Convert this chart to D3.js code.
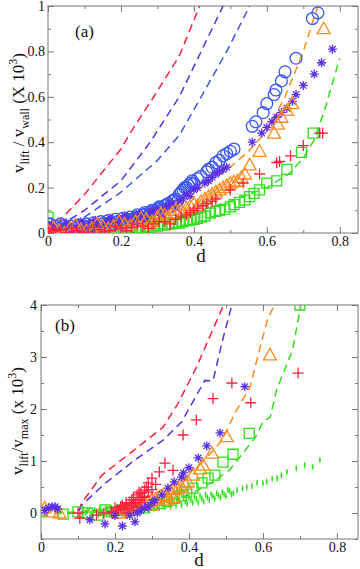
<!DOCTYPE html>
<meta charset="utf-8">
<head>
<title>lift velocity</title>
<style>
body { margin: 0; background-color: #FFF; }
text { font-family: 'Liberation Serif', 'Times New Roman', serif; fill: #111; }
.tick text { font-size: 14px; font-family: 'Liberation Serif', 'Times New Roman', serif; }
.tick line { stroke: #777; }
.frame { fill: none; stroke: #777; stroke-width: 1px; }
.dash { fill: none; stroke-width: 1.5px; stroke-dasharray: 8,5; }
.mark { fill: none; stroke-width: 1.3px; }
</style>
</head>
<body>
<script src="https://cdn.jsdelivr.net/npm/d3@7"></script>
<script>

var W = 360, H = 569;
var red = "#ff1f3d", purple = "#5b2ee8", blue = "#3a56f0", orange = "#ff8a1f", green = "#2fe01a";

// ---------- panel (a) data : [d, v] ----------
var aBlue = [[0.00,0.02],[0.005,0.04],[0.01,0.01],[0.015,0.0],[0.02,0.03],[0.025,0.01],[0.03,0.02],[0.035,0.04],[0.04,0.01],[0.045,0.03],[0.05,0.02],[0.055,0.01],[0.06,0.015],[0.065,0.03],[0.07,0.02],[0.075,0.01],[0.08,0.025],[0.085,0.035],[0.09,0.02],[0.095,0.015],[0.10,0.03],[0.105,0.04],[0.11,0.025],[0.115,0.02],[0.12,0.03],[0.125,0.045],[0.13,0.035],[0.135,0.025],[0.14,0.03],[0.145,0.05],[0.15,0.04],[0.155,0.03],[0.16,0.035],[0.165,0.055],[0.17,0.045],[0.175,0.035],[0.18,0.04],[0.185,0.06],[0.19,0.05],[0.195,0.04],[0.20,0.05],[0.205,0.065],[0.21,0.055],[0.215,0.045],[0.22,0.06],[0.225,0.07],[0.23,0.06],[0.235,0.055],[0.24,0.07],[0.245,0.08],[0.25,0.07],[0.255,0.065],[0.26,0.08],[0.265,0.09],[0.27,0.085],[0.275,0.075],[0.28,0.09],[0.285,0.10],[0.29,0.10],[0.295,0.09],[0.30,0.105],[0.305,0.115],[0.31,0.11],[0.315,0.10],[0.32,0.12],[0.325,0.125],[0.33,0.13],[0.335,0.115],[0.34,0.14],[0.345,0.145],[0.35,0.15],[0.355,0.14],[0.36,0.17],[0.365,0.18],[0.37,0.19],[0.375,0.20],[0.38,0.20],[0.385,0.21],[0.39,0.22],[0.395,0.23],[0.40,0.22],[0.41,0.24],[0.42,0.25],[0.435,0.27],[0.44,0.28],[0.45,0.29],[0.46,0.31],[0.47,0.32],[0.48,0.34],[0.49,0.35],[0.50,0.36],[0.51,0.37],[0.56,0.47],[0.57,0.49],[0.59,0.53],[0.60,0.57],[0.62,0.61],[0.625,0.63],[0.64,0.67],[0.65,0.71],[0.68,0.77],[0.725,0.945],[0.74,0.97]];
var aPurple = [[0.00,0.01],[0.01,0.04],[0.02,0.02],[0.03,0.0],[0.04,0.01],[0.05,0.045],[0.06,0.03],[0.07,0.01],[0.08,0.02],[0.09,0.05],[0.10,0.03],[0.11,0.015],[0.12,0.04],[0.13,0.055],[0.14,0.035],[0.15,0.02],[0.16,0.05],[0.17,0.065],[0.18,0.045],[0.19,0.03],[0.20,0.06],[0.21,0.075],[0.22,0.06],[0.23,0.04],[0.24,0.07],[0.25,0.085],[0.26,0.075],[0.27,0.05],[0.28,0.09],[0.29,0.10],[0.30,0.10],[0.31,0.08],[0.32,0.11],[0.33,0.12],[0.34,0.13],[0.35,0.11],[0.36,0.14],[0.37,0.15],[0.38,0.17],[0.39,0.16],[0.40,0.19],[0.41,0.20],[0.43,0.22],[0.44,0.23],[0.45,0.245],[0.46,0.26],[0.47,0.27],[0.48,0.28],[0.49,0.29],[0.56,0.40],[0.586,0.44],[0.60,0.465],[0.614,0.49],[0.627,0.51],[0.64,0.53],[0.655,0.55],[0.67,0.58],[0.68,0.61],[0.70,0.65],[0.73,0.70],[0.75,0.75],[0.78,0.81]];
var aOrange = [[0.00,0.01],[0.015,0.025],[0.03,0.01],[0.045,0.0],[0.06,0.02],[0.075,0.035],[0.09,0.015],[0.105,0.01],[0.12,0.02],[0.135,0.04],[0.15,0.03],[0.165,0.02],[0.18,0.03],[0.195,0.05],[0.21,0.04],[0.225,0.03],[0.24,0.05],[0.255,0.065],[0.27,0.06],[0.285,0.05],[0.30,0.07],[0.31,0.085],[0.32,0.08],[0.33,0.07],[0.34,0.09],[0.35,0.10],[0.36,0.10],[0.37,0.09],[0.38,0.11],[0.39,0.12],[0.40,0.13],[0.41,0.12],[0.42,0.14],[0.43,0.15],[0.44,0.16],[0.45,0.17],[0.46,0.18],[0.47,0.19],[0.48,0.20],[0.49,0.21],[0.50,0.22],[0.51,0.225],[0.52,0.23],[0.53,0.245],[0.54,0.26],[0.553,0.30],[0.58,0.36],[0.62,0.44],[0.63,0.48],[0.64,0.51],[0.655,0.54],[0.67,0.57],[0.756,0.90]];
var aRed = [[0.00,0.00],[0.01,0.02],[0.02,0.01],[0.035,0.015],[0.05,0.00],[0.065,0.02],[0.08,0.01],[0.095,0.00],[0.11,0.005],[0.125,0.025],[0.14,0.015],[0.155,0.005],[0.17,0.01],[0.185,0.03],[0.20,0.02],[0.215,0.01],[0.23,0.025],[0.245,0.04],[0.26,0.03],[0.275,0.02],[0.29,0.04],[0.305,0.05],[0.32,0.05],[0.335,0.04],[0.35,0.06],[0.365,0.07],[0.38,0.08],[0.39,0.09],[0.40,0.10],[0.41,0.11],[0.425,0.12],[0.435,0.13],[0.45,0.14],[0.46,0.15],[0.50,0.19],[0.535,0.22],[0.58,0.26],[0.627,0.31],[0.635,0.315],[0.665,0.34],[0.70,0.385],[0.745,0.44],[0.753,0.44]];
var aGreen = [[0.00,0.07],[0.00,0.04],[0.01,0.01],[0.02,0.00],[0.04,0.005],[0.05,0.01],[0.06,0.00],[0.07,0.0],[0.08,0.005],[0.09,0.01],[0.10,0.00],[0.11,0.005],[0.12,0.01],[0.13,0.015],[0.14,0.005],[0.15,0.01],[0.16,0.01],[0.17,0.015],[0.18,0.01],[0.19,0.02],[0.20,0.015],[0.21,0.02],[0.22,0.01],[0.23,0.025],[0.24,0.02],[0.25,0.025],[0.26,0.02],[0.27,0.03],[0.28,0.025],[0.29,0.035],[0.30,0.03],[0.31,0.04],[0.32,0.035],[0.33,0.04],[0.34,0.04],[0.35,0.045],[0.36,0.044],[0.37,0.05],[0.38,0.055],[0.39,0.057],[0.40,0.06],[0.41,0.065],[0.42,0.07],[0.43,0.075],[0.445,0.088],[0.46,0.095],[0.47,0.10],[0.485,0.105],[0.50,0.115],[0.51,0.125],[0.525,0.135],[0.54,0.145],[0.553,0.16],[0.565,0.175],[0.58,0.19],[0.60,0.22],[0.627,0.23],[0.655,0.28],[0.695,0.355],[0.727,0.44]];

var aLineRed = [[0,0],[0.1,0.17],[0.2,0.37],[0.225,0.44],[0.29,0.6],[0.36,0.78],[0.416,1.0],[0.43,1.06]];
var aLinePurple = [[0,0],[0.1,0.1],[0.2,0.23],[0.28,0.4],[0.36,0.6],[0.42,0.8],[0.48,1.0],[0.5,1.07]];
var aLineBlue = [[0,0],[0.1,0.07],[0.2,0.18],[0.3,0.32],[0.36,0.43],[0.42,0.6],[0.49,0.8],[0.553,1.0],[0.57,1.06]];
var aLineOrange = [[0,0],[0.1,0.02],[0.2,0.05],[0.3,0.1],[0.4,0.18],[0.5,0.29],[0.55,0.36],[0.6,0.45],[0.65,0.6],[0.7,0.8],[0.74,1.0],[0.75,1.05]];
var aLineGreen = [[0,0],[0.1,0.01],[0.2,0.03],[0.3,0.05],[0.4,0.09],[0.5,0.14],[0.6,0.2],[0.66,0.26],[0.7,0.33],[0.73,0.41],[0.76,0.55],[0.8,0.77]];

// ---------- panel (b) data ----------
var bRed = [[0.10,0.0],[0.105,-0.1],[0.15,-0.04],[0.17,0.0],[0.19,0.02],[0.195,0.0],[0.20,0.1],[0.205,0.05],[0.21,0.05],[0.215,0.12],[0.22,0.15],[0.225,0.08],[0.23,0.2],[0.23,0.0],[0.235,0.1],[0.24,0.18],[0.245,0.15],[0.245,0.25],[0.25,0.3],[0.25,0.05],[0.255,0.2],[0.26,0.35],[0.26,0.12],[0.265,0.4],[0.265,0.25],[0.27,0.38],[0.27,0.2],[0.275,0.3],[0.28,0.44],[0.28,0.32],[0.285,0.5],[0.29,0.58],[0.29,0.4],[0.30,0.67],[0.30,0.45],[0.31,0.55],[0.32,0.79],[0.335,0.96],[0.357,0.82],[0.384,1.5],[0.42,1.79],[0.465,2.2],[0.516,2.5],[0.567,2.12],[0.695,2.69]];
var bPurple = [[0.01,0.05],[0.02,0.1],[0.03,0.12],[0.038,0.12],[0.045,0.08],[0.132,-0.13],[0.173,-0.21],[0.20,-0.05],[0.22,-0.25],[0.24,-0.05],[0.254,-0.17],[0.26,0.0],[0.27,0.05],[0.28,0.1],[0.29,0.12],[0.30,0.2],[0.308,0.25],[0.327,0.35],[0.343,0.48],[0.36,0.6],[0.38,0.69],[0.385,0.77],[0.40,0.87],[0.425,1.06],[0.448,1.29],[0.484,1.54],[0.551,2.43]];
var bOrange = [[0.0,0.05],[0.01,0.1],[0.03,0.02],[0.05,0.0],[0.21,0.0],[0.22,0.05],[0.23,0.08],[0.24,0.1],[0.25,0.12],[0.26,0.15],[0.27,0.14],[0.28,0.2],[0.29,0.22],[0.30,0.25],[0.30,0.15],[0.31,0.27],[0.32,0.3],[0.33,0.33],[0.34,0.35],[0.34,0.25],[0.35,0.4],[0.36,0.45],[0.36,0.3],[0.37,0.47],[0.38,0.5],[0.39,0.55],[0.397,0.6],[0.411,0.73],[0.43,0.85],[0.438,0.92],[0.462,1.15],[0.502,1.47],[0.619,3.04]];
var bGreen = [[0.0,0.02],[0.06,-0.02],[0.10,0.02],[0.125,0.0],[0.154,-0.04],[0.173,0.06],[0.19,0.02],[0.22,0.05],[0.25,0.08],[0.28,0.1],[0.30,0.15],[0.32,0.18],[0.34,0.22],[0.36,0.28],[0.38,0.33],[0.394,0.4],[0.411,0.48],[0.435,0.58],[0.452,0.67],[0.47,0.73],[0.492,0.98],[0.519,1.13],[0.563,1.53],[0.70,4.0]];
var bGreenDots = [[0.12,0.0],[0.125,0.03],[0.13,0.05],[0.135,-0.02],[0.14,-0.05],[0.145,0.06],[0.15,0.02],[0.155,-0.04],[0.16,0.08],[0.165,0.03],[0.17,-0.03],[0.175,0.09],[0.18,0.04],[0.185,-0.01],[0.19,0.1],[0.195,0.05],[0.20,0.0],[0.205,0.12],[0.21,0.06],[0.215,0.02],[0.22,-0.02],[0.225,0.08],[0.23,0.12],[0.235,0.15],[0.24,0.05],[0.245,0.0],[0.25,0.15],[0.255,0.1],[0.26,0.02],[0.265,0.17],[0.27,0.1],[0.275,0.05],[0.28,0.18],[0.285,0.12],[0.29,0.06],[0.295,0.2],[0.30,0.14],[0.305,0.08],[0.31,0.2],[0.315,0.16],[0.32,0.1],[0.325,0.22],[0.33,0.17],[0.335,0.12],[0.34,0.24],[0.345,0.18],[0.35,0.12],[0.355,0.27],[0.36,0.2],[0.365,0.14],[0.37,0.26],[0.375,0.23],[0.38,0.15],[0.385,0.3],[0.39,0.22],[0.395,0.18],[0.40,0.3],[0.405,0.25],[0.41,0.2],[0.415,0.32],[0.42,0.27],[0.425,0.2],[0.43,0.33],[0.435,0.28],[0.44,0.22],[0.445,0.35],[0.45,0.3],[0.455,0.25],[0.46,0.36],[0.465,0.32],[0.47,0.28],[0.475,0.38],[0.48,0.34],[0.485,0.3],[0.49,0.4],[0.495,0.36],[0.50,0.32],[0.505,0.44],[0.51,0.42],[0.515,0.36],[0.52,0.38],[0.53,0.44],[0.545,0.47],[0.556,0.5],[0.57,0.52],[0.584,0.58],[0.60,0.57],[0.61,0.6],[0.625,0.66],[0.638,0.67],[0.65,0.72],[0.665,0.79],[0.69,0.86],[0.713,0.92],[0.735,0.89],[0.754,1.02]];

var bLineRed = [[0,0],[0.1,0],[0.11,0.19],[0.165,0.73],[0.25,1.2],[0.33,1.65],[0.37,2.1],[0.42,2.8],[0.49,3.94],[0.5,4.15]];
var bLinePurple = [[0,0],[0.1,0],[0.11,0.15],[0.17,0.55],[0.25,1.0],[0.33,1.4],[0.38,1.75],[0.443,2.55],[0.465,2.54],[0.49,3.3],[0.516,4.0],[0.52,4.15]];
var bLineOrange = [[0,0],[0.1,0.02],[0.2,0.12],[0.3,0.35],[0.38,0.65],[0.44,1.0],[0.49,1.4],[0.503,1.6],[0.524,1.92],[0.565,2.42],[0.592,3.18],[0.614,3.76],[0.632,4.0],[0.64,4.15]];
var bLineGreen = [[0,0],[0.1,0],[0.2,0.05],[0.3,0.15],[0.4,0.35],[0.465,0.6],[0.51,0.83],[0.546,1.15],[0.58,1.46],[0.6,1.75],[0.62,1.85],[0.637,2.37],[0.68,3.13],[0.70,3.9],[0.705,4.15]];

var xTicks = [0, 0.2, 0.4, 0.6, 0.8];
var xMinor = [0.1, 0.3, 0.5, 0.7];
var aYTicks = [0, 0.2, 0.4, 0.6, 0.8, 1];
var aYMinor = [0.1, 0.3, 0.5, 0.7, 0.9];
var bYTicks = [0, 1, 2, 3, 4];
var bYMinor = [-0.5, 0.5, 1.5, 2.5, 3.5];

var svg = d3.select("body").append("svg").attr("width", W).attr("height", H);

function panel(opt) {
    var x = d3.scaleLinear().domain(opt.xd).range([opt.left, opt.right]);
    var y = d3.scaleLinear().domain(opt.yd).range([opt.bottom, opt.top]);
    var g = svg.append("g");
    var w = opt.right - opt.left, h = opt.bottom - opt.top;

    g.append("clipPath").attr("id", opt.id).append("rect")
        .attr("x", opt.left).attr("y", opt.top).attr("width", w).attr("height", h);

    function ax(gen, tr, vals, size, labels, pad) {
        var a = g.append("g").attr("transform", tr)
            .call(gen.tickValues(vals).tickSize(size).tickPadding(pad || 5)
                .tickFormat(labels ? d3.format("") : ""));
        a.attr("font-family", null).attr("font-size", null);
        a.select(".domain").remove();
        return a;
    }
    ax(d3.axisBottom(x), "translate(0," + opt.bottom + ")", xTicks, -6, true, 3);
    ax(d3.axisBottom(x), "translate(0," + opt.bottom + ")", xMinor, -3, false);
    ax(d3.axisTop(x), "translate(0," + opt.top + ")", xTicks, -6, false);
    ax(d3.axisTop(x), "translate(0," + opt.top + ")", xMinor, -3, false);
    ax(d3.axisLeft(y), "translate(" + opt.left + ",0)", opt.yt, -6, true, opt.ypad);
    ax(d3.axisLeft(y), "translate(" + opt.left + ",0)", opt.ym, -3, false);
    ax(d3.axisRight(y), "translate(" + opt.right + ",0)", opt.yt, -6, false);
    ax(d3.axisRight(y), "translate(" + opt.right + ",0)", opt.ym, -3, false);

    g.append("rect").attr("class", "frame")
        .attr("x", opt.left).attr("y", opt.top).attr("width", w).attr("height", h);

    var body = g.append("g").attr("clip-path", "url(#" + opt.id + ")");
    var line = d3.line().x(function(d){return x(d[0]);}).y(function(d){return y(d[1]);});

    opt.lines.forEach(function(l) {
        body.append("path").attr("class", "dash").attr("stroke", l[1]).attr("d", line(l[0]));
    });
    opt.series.forEach(function(s) {
        body.append("g").selectAll("path").data(s.data).enter().append("path")
            .attr("class", "mark")
            .attr("stroke", s.color)
            .attr("stroke-width", s.sw || 1.3)
            .attr("transform", function(d){return "translate(" + x(d[0]) + "," + y(d[1]) + ")";})
            .attr("d", s.shape);
    });
    return g;
}

var circle = d3.symbol().type(d3.symbolCircle).size(110)();
var square = "M-5,-5H5V5H-5Z";
var triangle = "M0,-6.5L6.5,5H-6.5Z";
var plus = "M-5.5,0H5.5M0,-5.5V5.5";
var star = "M-4.5,0H4.5M0,-4.5V4.5M-3.2,-3.2L3.2,3.2M-3.2,3.2L3.2,-3.2";
var dot = "M0,-3V3M-1,0H1";

panel({
    id: "clipA", xd: [0, 0.85], yd: [0, 1], left: 48, right: 358, top: 6, bottom: 233,
    yt: aYTicks, ym: aYMinor, ypad: 3,
    lines: [[aLineRed, red], [aLinePurple, purple], [aLineBlue, blue], [aLineOrange, orange], [aLineGreen, green]],
    series: [
        {data: aGreen, color: green, shape: square},
        {data: aBlue, color: blue, shape: circle},
        {data: aPurple, color: purple, shape: star, sw: 1.6},
        {data: aOrange, color: orange, shape: triangle},
        {data: aRed, color: red, shape: plus, sw: 1.6}
    ]
});

panel({
    id: "clipB", xd: [0, 0.857], yd: [-0.5, 4], left: 41, right: 358, top: 305, bottom: 539,
    yt: bYTicks, ym: bYMinor, ypad: 4,
    lines: [[bLineRed, red], [bLinePurple, purple], [bLineOrange, orange], [bLineGreen, green]],
    series: [
        {data: bGreenDots, color: green, shape: dot, sw: 1.2},
        {data: bGreen, color: green, shape: square},
        {data: bOrange, color: orange, shape: triangle},
        {data: bRed, color: red, shape: plus, sw: 1.6},
        {data: bPurple, color: purple, shape: star, sw: 1.6}
    ]
});

// panel letters and axis titles
svg.append("text").attr("x", 75).attr("y", 37).style("font-size", "17px").text("(a)");
svg.append("text").attr("x", 55).attr("y", 331).style("font-size", "17px").text("(b)");
svg.append("text").attr("x", 201).attr("y", 262).attr("text-anchor", "middle").style("font-size", "19px").text("d");
svg.append("text").attr("x", 199).attr("y", 566).attr("text-anchor", "middle").style("font-size", "19px").text("d");

var ya = svg.append("text").attr("transform", "translate(24,113) rotate(-90)")
    .attr("text-anchor", "middle").style("font-size", "17px");
ya.append("tspan").text("v");
ya.append("tspan").attr("dy", 5).style("font-size", "12px").text("lift");
ya.append("tspan").attr("dy", -5).text(" / v");
ya.append("tspan").attr("dy", 5).style("font-size", "12px").text("wall");
ya.append("tspan").attr("dy", -5).text(" (X 10");
ya.append("tspan").attr("dy", -7).style("font-size", "12px").text("3");
ya.append("tspan").attr("dy", 7).text(")");

var yb = svg.append("text").attr("transform", "translate(23,421) rotate(-90)")
    .attr("text-anchor", "middle").style("font-size", "17px");
yb.append("tspan").text("v");
yb.append("tspan").attr("dy", 5).style("font-size", "12px").text("lift");
yb.append("tspan").attr("dy", -5).text("/v");
yb.append("tspan").attr("dy", 5).style("font-size", "12px").text("max");
yb.append("tspan").attr("dy", -5).text(" (x 10");
yb.append("tspan").attr("dy", -7).style("font-size", "12px").text("3");
yb.append("tspan").attr("dy", 7).text(")");

</script>
</body>
